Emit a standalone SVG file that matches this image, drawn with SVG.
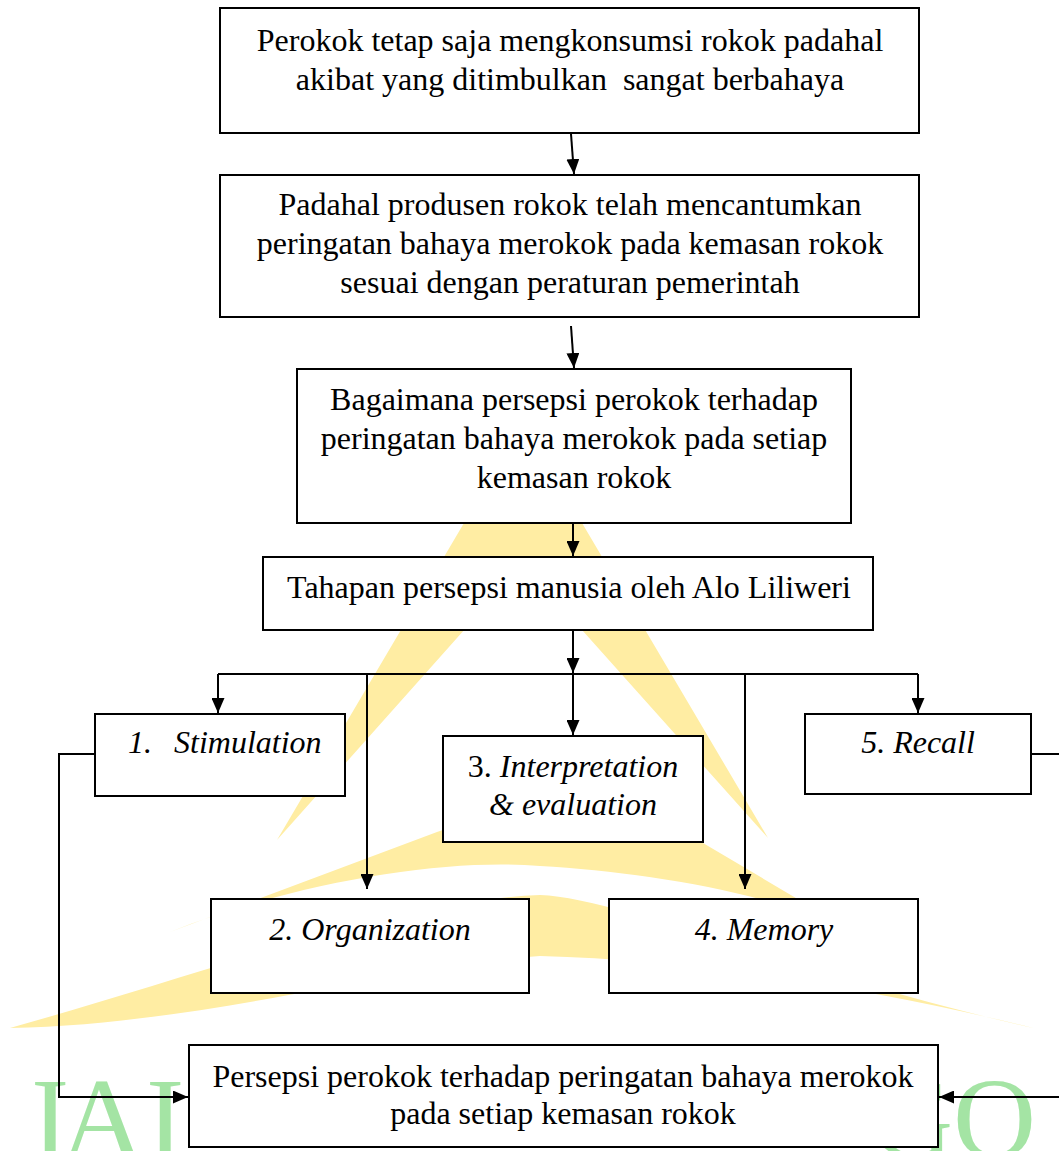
<svg xmlns="http://www.w3.org/2000/svg" width="1059" height="1151" viewBox="0 0 1059 1151">
  <defs>
    <style>
      .box { fill: #ffffff; stroke: #000000; stroke-width: 2; }
      .t { font-family: "Liberation Serif", "Times New Roman", serif; font-size: 32px; fill: #000000; }
      .c { text-anchor: middle; }
      .i { font-style: italic; }
      .con { fill: none; stroke: #000000; stroke-width: 2; }
      .arr { marker-end: url(#ah); }
      .wmy { fill: #FFEDA3; }
      .wmg { font-family: "Liberation Serif", "Times New Roman", serif; font-size: 115px; fill: #A4E4A4; }
    </style>
    <marker id="ah" markerUnits="userSpaceOnUse" markerWidth="15" markerHeight="13" refX="15" refY="6.5" orient="auto">
      <path d="M0,0 L15,6.5 L0,13 Z" fill="#000000"/>
    </marker>
  </defs>

  <rect width="1059" height="1151" fill="#ffffff"/>

  <g id="watermark">
    <path class="wmy" d="M277,840 L523,423 L768,838 L523,564 Z"/>
    <path class="wmy" d="M170,932 L437,832 C500,808 640,805 703,843 L850,930 C760,890 640,872 540,866 C450,858 300,880 170,932 Z"/>
    <path class="wmy" d="M10,1028 C200,975 400,900 540,895 C620,898 800,975 1033,1028 C880,990 700,960 540,956 C400,965 200,1025 10,1028 Z"/>
    <text class="wmg" y="1157" x="31 61 146">IAI</text>
    <text class="wmg" y="1157" x="870 953">GO</text>
  </g>

  <g id="connectors">
    <path class="con arr" d="M571,134 L574,174"/>
    <path class="con arr" d="M571,326 L574,368"/>
    <path class="con arr" d="M573,524 L573,556"/>
    <path class="con arr" d="M573,631 L573,673"/>
    <path class="con" d="M218,674 L918,674"/>
    <path class="con arr" d="M218,674 L218,713"/>
    <path class="con arr" d="M367,674 L367,889"/>
    <path class="con arr" d="M573,674 L573,735"/>
    <path class="con arr" d="M745,674 L745,889"/>
    <path class="con arr" d="M918,674 L918,713"/>
    <path class="con arr" d="M95,754 L59,754 L59,1097 L188,1097"/>
    <path class="con arr" d="M1031,754 L1066,754 L1066,1097 L939,1097"/>
  </g>

  <g id="node-1">
    <rect class="box" x="220" y="8" width="699" height="125"/>
    <text class="t c" x="570" y="51">Perokok tetap saja mengkonsumsi rokok padahal</text>
    <text class="t c" x="570" y="90" style="white-space:pre">akibat yang ditimbulkan  sangat berbahaya</text>
  </g>

  <g id="node-2">
    <rect class="box" x="220" y="175" width="699" height="142"/>
    <text class="t c" x="570" y="215">Padahal produsen rokok telah mencantumkan</text>
    <text class="t c" x="570" y="254">peringatan bahaya merokok pada kemasan rokok</text>
    <text class="t c" x="570" y="293">sesuai dengan peraturan pemerintah</text>
  </g>

  <g id="node-3">
    <rect class="box" x="297" y="369" width="554" height="154"/>
    <text class="t c" x="574" y="410">Bagaimana persepsi perokok terhadap</text>
    <text class="t c" x="574" y="449">peringatan bahaya merokok pada setiap</text>
    <text class="t c" x="574" y="488">kemasan rokok</text>
  </g>

  <g id="node-4">
    <rect class="box" x="263" y="557" width="610" height="73"/>
    <text class="t c" x="569" y="598">Tahapan persepsi manusia oleh Alo Liliweri</text>
  </g>

  <g id="node-stimulation">
    <rect class="box" x="95" y="714" width="250" height="82"/>
    <text class="t i" y="753"><tspan x="128">1.</tspan><tspan x="174">Stimulation</tspan></text>
  </g>

  <g id="node-interpretation">
    <rect class="box" x="443" y="736" width="260" height="106"/>
    <text class="t c" x="573" y="777"><tspan>3. </tspan><tspan class="i">Interpretation</tspan></text>
    <text class="t c i" x="573" y="815">&amp; evaluation</text>
  </g>

  <g id="node-recall">
    <rect class="box" x="805" y="714" width="226" height="80"/>
    <text class="t c i" x="918" y="753">5. Recall</text>
  </g>

  <g id="node-organization">
    <rect class="box" x="211" y="899" width="318" height="94"/>
    <text class="t c i" x="370" y="940">2. Organization</text>
  </g>

  <g id="node-memory">
    <rect class="box" x="609" y="899" width="309" height="94"/>
    <text class="t c i" x="764" y="940">4. Memory</text>
  </g>

  <g id="node-result">
    <rect class="box" x="189" y="1045" width="749" height="102"/>
    <text class="t c" x="563" y="1087">Persepsi perokok terhadap peringatan bahaya merokok</text>
    <text class="t c" x="563" y="1124">pada setiap kemasan rokok</text>
  </g>
</svg>
